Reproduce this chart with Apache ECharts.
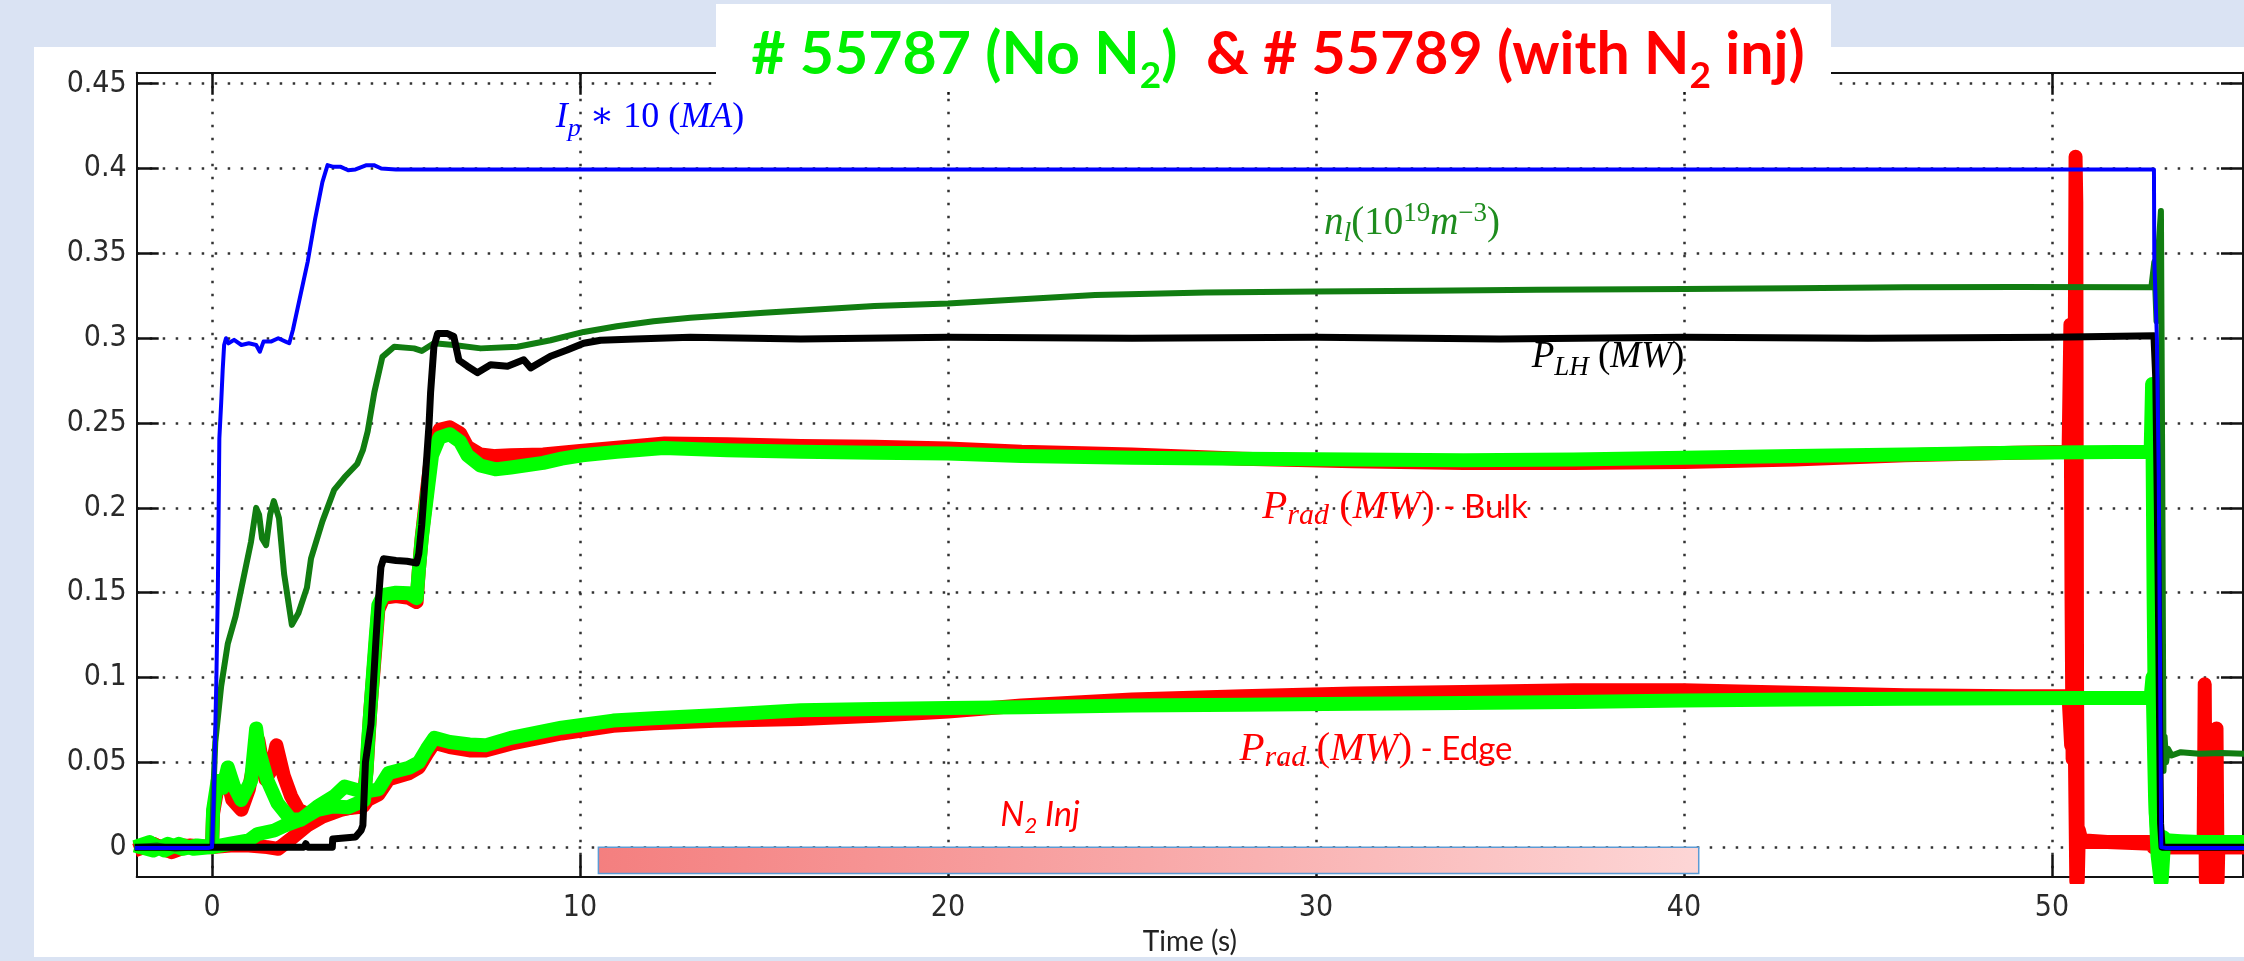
<!DOCTYPE html>
<html><head><meta charset="utf-8">
<script src="https://cdn.jsdelivr.net/npm/echarts@6/dist/echarts.min.js"></script>
<style>html,body{margin:0;padding:0;background:#dae3f3;}#c{width:2244px;height:961px;}</style>
</head><body><div id="c"></div>
<script>
// ---- tick values ----
const xTicks = [0, 10, 20, 30, 40, 50];
const yTicks = [0, 0.05, 0.1, 0.15, 0.2, 0.25, 0.3, 0.35, 0.4, 0.45];

// ---- Ip * 10 (MA) ----
const ipData = [[-2.1,-0.0005],[-0.1,-0.0005],[0.0,0.0],[0.05,0.03],[0.12,0.10],[0.16,0.153],[0.2,0.241],[0.25,0.262],[0.29,0.281],[0.33,0.296],[0.38,0.300],[0.45,0.297],[0.6,0.299],[0.8,0.296],[1.0,0.297],[1.2,0.296],[1.3,0.292],[1.4,0.298],[1.6,0.298],[1.8,0.300],[2.0,0.298],[2.1,0.297],[2.2,0.305],[2.4,0.325],[2.6,0.345],[2.8,0.370],[3.0,0.392],[3.14,0.402],[3.3,0.401],[3.5,0.401],[3.7,0.399],[3.9,0.3995],[4.2,0.402],[4.4,0.402],[4.6,0.400],[5.0,0.3995],[20,0.3995],[40,0.3995],[52.77,0.3995],[52.78,0.346],[52.85,0.30],[52.9,0.22],[52.97,0.0],[53.1,-0.0005],[55.3,-0.0005]];

// ---- n_l (1e19 m^-3) ----
const neData = [[-2.1,0.0],[-1.5,0.001],[-1.0,-0.001],[-0.5,0.0],[0.0,0.0],[0.05,0.04],[0.09,0.062],[0.25,0.095],[0.43,0.12],[0.64,0.136],[0.85,0.158],[1.06,0.18],[1.2,0.2],[1.28,0.196],[1.36,0.182],[1.47,0.178],[1.58,0.196],[1.68,0.204],[1.82,0.194],[1.96,0.161],[2.17,0.131],[2.35,0.138],[2.58,0.153],[2.69,0.170],[3.0,0.192],[3.32,0.2106],[3.6,0.218],[3.95,0.226],[4.1,0.234],[4.23,0.245],[4.41,0.268],[4.63,0.289],[4.95,0.295],[5.49,0.294],[5.7,0.2925],[6.03,0.297],[6.57,0.296],[7.3,0.294],[8.3,0.295],[9.2,0.2988],[10.1,0.3037],[11,0.307],[12,0.310],[13,0.312],[15,0.315],[18,0.319],[20,0.3205],[22,0.323],[24,0.3255],[27,0.327],[30,0.3275],[33,0.328],[36,0.3285],[40,0.329],[43,0.3295],[46,0.330],[49,0.3302],[52.7,0.330],[52.78,0.345],[52.84,0.31],[52.9,0.355],[52.96,0.375],[53.0,0.20],[53.03,0.045],[53.06,0.065],[53.1,0.05],[53.15,0.058],[53.25,0.054],[53.5,0.056],[54,0.055],[54.6,0.0555],[55.3,0.055]];

// ---- P_LH (MW) ----
const plhData = [[-2.1,0.0],[2.5,0.0],[2.55,0.002],[2.6,0.0],[3.27,0.0],[3.28,0.0048],[3.9,0.006],[4.05,0.0098],[4.1,0.0128],[4.17,0.05],[4.32,0.0725],[4.45,0.12],[4.52,0.1446],[4.59,0.165],[4.66,0.170],[5.0,0.169],[5.3,0.1685],[5.56,0.1675],[5.62,0.173],[5.7,0.19],[5.77,0.2106],[5.84,0.231],[5.9,0.25],[5.94,0.268],[6.03,0.295],[6.13,0.3027],[6.4,0.3027],[6.57,0.301],[6.71,0.287],[6.94,0.2835],[7.21,0.2797],[7.57,0.2844],[8.03,0.2835],[8.47,0.2873],[8.66,0.2825],[9.2,0.2894],[9.65,0.293],[10.1,0.297],[10.56,0.2988],[11.5,0.2995],[13,0.3005],[16,0.2995],[20,0.3005],[25,0.300],[30,0.3005],[35,0.2995],[40,0.3005],[45,0.300],[50,0.3005],[52.77,0.3015],[52.82,0.276],[52.86,0.204],[52.9,0.125],[52.95,0.014],[52.99,0.0],[55.3,0.0]];

// ---- P_rad bulk, #55787 (no N2) ----
const pradBulkNoN2 = [[-2.1,0.001],[-1.6,-0.002],[-1.2,0.002],[-0.8,-0.001],[-0.4,0.001],[0.0,0.0],[0.5,0.002],[1.0,0.004],[1.24,0.0077],[1.69,0.0098],[1.97,0.0127],[2.42,0.0163],[2.87,0.022],[3.3,0.024],[3.7,0.0235],[4.13,0.0275],[4.2,0.045],[4.24,0.062],[4.38,0.1035],[4.45,0.124],[4.52,0.1427],[4.66,0.1487],[5.0,0.150],[5.35,0.1497],[5.56,0.1467],[5.62,0.163],[5.7,0.1818],[5.84,0.2066],[5.98,0.231],[6.18,0.2414],[6.46,0.2434],[6.74,0.239],[6.94,0.231],[7.29,0.225],[7.7,0.2227],[8.12,0.2238],[9.0,0.2265],[9.5,0.229],[10.06,0.231],[11,0.233],[12.27,0.2353],[14,0.234],[16,0.2331],[18,0.2325],[20,0.232],[22,0.2305],[25,0.2295],[28,0.229],[31,0.2285],[34,0.228],[37,0.2285],[40,0.2295],[43,0.2305],[46,0.2315],[49,0.2325],[52.68,0.233],[52.72,0.273],[52.76,0.15],[52.82,0.02],[52.88,0.004],[52.98,-0.02],[53.05,0.005],[53.2,0.003],[55.3,0.003]];

// ---- P_rad bulk, #55789 (with N2) ----
const pradBulkN2 = [[-2.1,-0.001],[-1.6,0.002],[-1.2,-0.002],[-0.8,0.001],[0.0,0.0],[0.5,0.001],[1.0,0.001],[1.5,0.0],[1.8,-0.001],[2.15,0.005],[2.6,0.013],[3.0,0.018],[3.5,0.022],[4.1,0.025],[4.2,0.045],[4.3,0.08],[4.45,0.12],[4.52,0.14],[4.66,0.147],[5.0,0.148],[5.35,0.147],[5.56,0.1445],[5.62,0.163],[5.7,0.183],[5.84,0.21],[5.98,0.235],[6.18,0.246],[6.46,0.2475],[6.74,0.244],[6.94,0.236],[7.29,0.2315],[7.7,0.2305],[8.12,0.231],[9.0,0.2315],[10,0.2335],[11,0.2355],[12.3,0.238],[14,0.2375],[16,0.2365],[18,0.236],[20,0.235],[22,0.233],[25,0.2315],[28,0.229],[31,0.2275],[34,0.2265],[37,0.2265],[40,0.227],[43,0.2285],[46,0.231],[49,0.2325],[50.45,0.233],[50.5,0.308],[50.53,0.15],[50.56,0.052],[50.6,0.2],[50.64,0.407],[50.66,0.38],[50.68,0.1],[50.7,-0.02],[50.73,0.01],[50.8,0.004],[51.5,0.003],[52.7,0.002],[52.75,0.0],[54.12,0.0],[54.15,0.096],[54.18,-0.02],[54.2,0.0],[54.44,0.0],[54.47,0.07],[54.5,-0.02],[54.52,0.0],[55.3,0.0]];

// ---- P_rad edge, #55787 (no N2) ----
const pradEdgeNoN2 = [[-2.1,0.0],[-1.7,0.003],[-1.3,-0.002],[-0.9,0.002],[-0.5,-0.001],[0.0,0.0],[0.03,0.022],[0.15,0.039],[0.3,0.035],[0.43,0.047],[0.6,0.0357],[0.79,0.0278],[1.06,0.039],[1.2,0.070],[1.28,0.0566],[1.51,0.039],[1.78,0.026],[2.14,0.0163],[2.42,0.0163],[2.87,0.024],[3.32,0.030],[3.6,0.0357],[3.96,0.0336],[4.13,0.034],[4.24,0.033],[4.52,0.034],[4.8,0.0437],[5.35,0.0468],[5.62,0.050],[5.84,0.058],[6.04,0.0644],[6.46,0.062],[7.0,0.0605],[7.43,0.060],[8.12,0.0644],[9.5,0.0704],[10.9,0.0746],[12,0.076],[13.66,0.0777],[16,0.0807],[18,0.0815],[20,0.082],[22,0.0825],[25,0.0835],[28,0.084],[31,0.0845],[34,0.085],[37,0.0855],[40,0.0865],[43,0.087],[46,0.0875],[49,0.0878],[52.68,0.088],[52.73,0.100],[52.8,0.03],[52.87,-0.005],[52.95,-0.02],[53.02,0.006],[53.1,0.004],[53.5,0.0035],[54,0.003],[55.3,0.003]];

// ---- P_rad edge, #55789 (with N2) ----
const pradEdgeN2 = [[-2.1,-0.002],[-1.6,0.002],[-1.1,-0.003],[-0.6,0.001],[0.0,0.0],[0.03,0.02],[0.15,0.035],[0.4,0.042],[0.55,0.028],[0.8,0.022],[1.0,0.034],[1.26,0.063],[1.45,0.040],[1.6,0.045],[1.75,0.060],[1.95,0.042],[2.15,0.030],[2.35,0.022],[2.6,0.0195],[3.0,0.021],[3.5,0.0225],[4.1,0.024],[4.24,0.028],[4.52,0.031],[4.8,0.04],[5.35,0.0435],[5.62,0.047],[5.84,0.055],[6.04,0.0615],[6.46,0.059],[7.0,0.057],[7.43,0.057],[8.12,0.061],[9.5,0.067],[10.9,0.0715],[12,0.073],[13.66,0.0745],[16,0.0755],[18,0.0775],[20,0.080],[22,0.0835],[25,0.087],[28,0.089],[31,0.0905],[34,0.0915],[37,0.0925],[40,0.0925],[43,0.091],[46,0.0895],[49,0.089],[50.45,0.089],[50.52,0.06],[50.6,0.1],[50.66,-0.02],[50.72,0.006],[50.8,0.003],[52.75,0.003],[52.8,0.0],[55.3,0.0]];

// ---- N2 injection window [start, end] (s) ----
const n2Window = [10.5, 40.4];

const X_MIN = -2.046, X_MAX = 55.19, Y_MIN = -0.01766, Y_MAX = 0.4565;

const tickFont = "'DejaVu Sans Condensed', 'Liberation Sans Narrow', 'DejaVu Sans', sans-serif";
const serif = "'Liberation Serif', 'DejaVu Serif', serif";
const sans = "Lato, 'Open Sans', sans-serif";

function axisCommon(pos, ticks, showLabel, showSplit) {
  return {
    type: 'value', position: pos,
    axisLine: {show: true, onZero: false, lineStyle: {color: '#111', width: 2}},
    axisTick: {show: true, inside: true, length: 22, customValues: ticks, lineStyle: {color: '#111', width: 2.5}},
    axisLabel: {show: showLabel, customValues: ticks, color: '#2a2a2a', fontSize: 30, fontFamily: tickFont,
                formatter: v => String(+(+v).toFixed(2))},
    splitLine: {show: showSplit, customValues: ticks, lineStyle: {color: '#333', width: 2.5, type: [2.5, 10.5]}}
  };
}

const xBottom = Object.assign(axisCommon('bottom', xTicks, true, true), {
  min: X_MIN, max: X_MAX, name: 'Time (s)', nameLocation: 'middle', nameGap: 50,
  nameTextStyle: {color: '#222', fontSize: 28, fontFamily: sans}
});
xBottom.axisLabel.margin = 16;
const xTop = Object.assign(axisCommon('top', xTicks, false, false), {min: X_MIN, max: X_MAX});
const yLeft = Object.assign(axisCommon('left', yTicks, true, true), {min: Y_MIN, max: Y_MAX});
yLeft.axisLabel.margin = 10;
const yRight = Object.assign(axisCommon('right', yTicks, false, false), {min: Y_MIN, max: Y_MAX});

function line(name, data, color, width, z) {
  return {type: 'line', name, data, xAxisIndex: 0, yAxisIndex: 0, showSymbol: false, symbol: 'none',
          lineStyle: {color, width, join: 'round'}, itemStyle: {color}, z, clip: true, silent: true};
}

const edgeGreen = line('Prad edge #55787', pradEdgeNoN2, '#00ff00', 14, 4);
edgeGreen.markArea = {
  silent: true, label: {show: false},
  itemStyle: {
    color: {type: 'linear', x: 0, y: 0, x2: 1, y2: 1,
            colorStops: [{offset: 0, color: '#f47f7f'}, {offset: 0.5, color: '#f8a8a8'}, {offset: 1, color: '#fdd6d6'}]},
    borderColor: '#5b9bd5', borderWidth: 1.5
  },
  data: [[{xAxis: n2Window[0], yAxis: 0}, {xAxis: n2Window[1], yAxis: -0.0155}]]
};

function mathRich(color, size) {
  return {
    m: {fill: color, fontFamily: serif, fontStyle: 'italic', fontSize: size, lineHeight: 48},
    u: {fill: color, fontFamily: serif, fontSize: size, lineHeight: 48},
    sb: {fill: color, fontFamily: serif, fontStyle: 'italic', fontSize: Math.round(size * 0.72), lineHeight: 26, verticalAlign: 'bottom'},
    sp: {fill: color, fontFamily: serif, fontSize: Math.round(size * 0.68), lineHeight: 24, verticalAlign: 'top'},
    s: {fill: color, fontFamily: sans, fontSize: 33, lineHeight: 48}
  };
}
function label(x, y, text, color, size) {
  return {type: 'text', x, y, z: 1, silent: true,
          style: {text, rich: mathRich(color, size), fill: color, align: 'center', verticalAlign: 'middle',
                  textAlign: 'center', textVerticalAlign: 'middle'}};
}

const titleRich = {
  g: {fill: '#00f000', fontFamily: sans, fontWeight: 'bold', fontSize: 59, lineHeight: 80},
  gs: {fill: '#00f000', fontFamily: sans, fontWeight: 'bold', fontSize: 37, lineHeight: 37, verticalAlign: 'bottom'},
  r: {fill: '#ff0000', fontFamily: sans, fontWeight: 'bold', fontSize: 59, lineHeight: 80},
  rs: {fill: '#ff0000', fontFamily: sans, fontWeight: 'bold', fontSize: 37, lineHeight: 37, verticalAlign: 'bottom'}
};

const option = {
  animation: false,
  backgroundColor: '#dae3f3',
  grid: {left: 136.7, right: 1, top: 72.7, bottom: 64.3, containLabel: false},
  xAxis: [xBottom, xTop],
  yAxis: [yLeft, yRight],
  graphic: [
    {type: 'rect', z: -5, silent: true, shape: {x: 34, y: 47, width: 2210, height: 910}, style: {fill: '#ffffff'}},
    {type: 'rect', z: 50, silent: true, shape: {x: 716, y: 4, width: 1115, height: 88}, style: {fill: '#ffffff'}},
    {type: 'text', z: 51, silent: true, x: 1278, y: 55,
     style: {text: '{g|# 55787 (No N}{gs|2}{g|)  }{r|& # 55789 (with N}{rs|2}{r| inj)}', rich: titleRich,
             align: 'center', verticalAlign: 'middle', textAlign: 'center', textVerticalAlign: 'middle'}},
    label(650, 118, '{m|I}{sb|p}{u| \u2217 10 (}{m|MA}{u|)}', '#0000ff', 36),
    label(1412, 224, '{m|n}{sb|l}{u|(10}{sp|19}{m|m}{sp|\u22123}{u|)}', '#1e8c1e', 39),
    label(1608, 357, '{m|P}{sb|LH}{u| (}{m|MW}{u|)}', '#000000', 37),
    label(1395, 507, '{m|P}{sb|rad}{u| (}{m|MW}{u|)}{s| - Bulk}', '#ff0000', 41),
    label(1376, 749, '{m|P}{sb|rad}{u| (}{m|MW}{u|)}{s| - Edge}', '#ff0000', 41),
    {type: 'text', z: 1, silent: true, x: 1040, y: 815,
     style: {text: '{n|N}{ns|2}{n| Inj}', align: 'center', verticalAlign: 'middle', textAlign: 'center', textVerticalAlign: 'middle',
             rich: {n: {fill: '#ff0000', fontFamily: sans, fontStyle: 'italic', fontSize: 34, lineHeight: 44},
                    ns: {fill: '#ff0000', fontFamily: sans, fontStyle: 'italic', fontSize: 22, lineHeight: 22, verticalAlign: 'bottom'}}}}
  ],
  series: [
    line('Prad edge #55789', pradEdgeN2, '#ff0000', 14, 2),
    line('Prad bulk #55789', pradBulkN2, '#ff0000', 14, 3),
    edgeGreen,
    line('Prad bulk #55787', pradBulkNoN2, '#00ff00', 14, 5),
    line('n_l', neData, '#117d11', 6, 6),
    line('P_LH', plhData, '#000000', 7, 7),
    line('Ip*10', ipData, '#0000ff', 4, 8)
  ]
};

const chart = echarts.init(document.getElementById('c'));
chart.setOption(option);
</script>
</body></html>
